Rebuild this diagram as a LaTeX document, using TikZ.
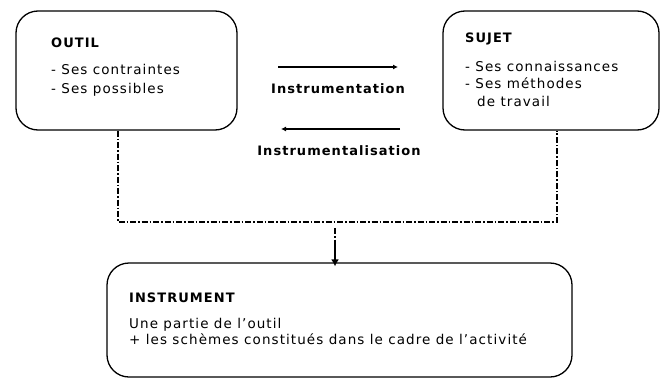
\documentclass[tikz,border=0pt]{standalone}
\usepackage{fontspec}
\setmainfont{DejaVu Sans}[LetterSpace=8]
\usetikzlibrary{arrows.meta}
\begin{document}
\begin{tikzpicture}[x=1pt,y=-1pt,
  box/.style={draw, line width=1.3pt, rounded corners=22pt, fill=white, inner sep=0pt},
  txt/.style={anchor=base west, inner sep=0pt, font=\fontsize{13.5}{15}\selectfont},
  ttl/.style={anchor=base west, inner sep=0pt, font=\fontsize{13}{15}\selectfont\bfseries},
  lbl/.style={anchor=base, inner sep=0pt, font=\fontsize{13}{15}\selectfont\bfseries},
  arr/.style={line width=1.3pt, -{Latex[length=5pt,width=5pt]}},
  darr/.style={line width=1.3pt, -{Latex[length=7pt,width=8pt]}},
  dd/.style={line width=1.1pt, dash pattern=on 6pt off 2pt on 1.5pt off 2pt}]
\useasboundingbox (0,0) rectangle (666,380);
% boxes
\node[box, minimum width=221pt, minimum height=119pt] (outil) at (126.5,70.5) {};
\node[box, minimum width=216pt, minimum height=119pt] (sujet) at (551,70.5) {};
\node[box, minimum width=465pt, minimum height=114pt] (instr) at (339.5,320) {};
% OUTIL text
\node[ttl] (o0) at (51,47) {OUTIL};
\node[txt] (o1) at (51,74) {- Ses contraintes};
\node[txt] (o2) at (51,93) {- Ses possibles};
% SUJET text
\node[ttl] (s0) at (465,42) {SUJET};
\node[txt] (s1) at (465,71) {- Ses connaissances};
\node[txt] (s2) at (465,88) {- Ses méthodes};
\node[txt] (s3) at (477,106) {de travail};
% INSTRUMENT text
\node[ttl] (i0) at (129,302) {INSTRUMENT};
\node[txt] (i1) at (129,328) {Une partie de l'outil};
\node[txt] (i2) at (129,344) {+ les schèmes constitués dans le cadre de l'activité};
% arrows
\coordinate (a1s) at (278,67);
\coordinate (a1e) at (398,67);
\coordinate (a2s) at (400,129);
\coordinate (a2e) at (281,129);
\draw[arr] (a1s) -- (a1e);
\draw[arr] (a2s) -- (a2e);
\node[lbl] (l1) at (338,93) {Instrumentation};
\node[lbl] (l2) at (339,155) {Instrumentalisation};
% dash-dot connector
\coordinate (dl) at (118,222);
\coordinate (dr) at (557,222);
\draw[dd] (outil.south -| dl) -- (dl) -- (dr) -- (sujet.south -| dr);
\coordinate (ds) at (335,228);
\draw[dd] (ds) -- (335,248);
\draw[darr] (335,244) -- ([yshift=-4pt]instr.north -| ds);
\end{tikzpicture}
\end{document}
